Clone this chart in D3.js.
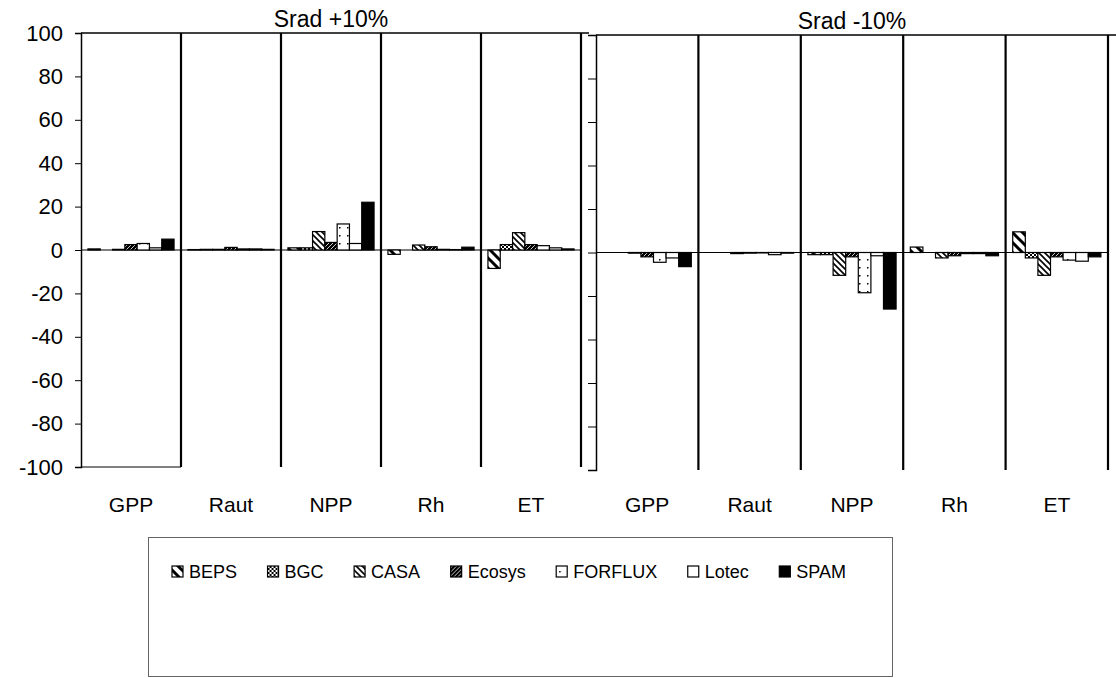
<!DOCTYPE html>
<html>
<head>
<meta charset="utf-8">
<script src="https://cdn.jsdelivr.net/npm/d3@7"></script>
<style>
  body { margin: 0; background: #fff; }
  svg { display: block; font-family: "Liberation Sans", Arial, sans-serif; }
</style>
</head>
<body>
<svg id="chart" width="1116" height="678"></svg>
<script>
var categories = ["GPP", "Raut", "NPP", "Rh", "ET"];
var models = ["BEPS", "BGC", "CASA", "Ecosys", "FORFLUX", "Lotec", "SPAM"];
var yTicks = [100, 80, 60, 40, 20, 0, -20, -40, -60, -80, -100];

// Srad +10% : values per category, in model order
var up_GPP  = [0.5, 0, 0.3, 2.5, 3, 1, 5];
var up_Raut = [0.2, 0.3, 0.3, 1.2, 0.5, 0.5, 0.3];
var up_NPP  = [1, 1, 8.5, 3.5, 12, 3, 22];
var up_Rh   = [-2, 0, 2.3, 1.5, 0.3, 0.2, 1.3];
var up_ET   = [-8.5, 2.5, 8, 2.5, 2, 1, 0.5];

// Srad -10%
var dn_GPP  = [0, 0, -0.3, -2, -4.5, -2.5, -6.5];
var dn_Raut = [0, 0, -0.5, -0.3, -0.2, -1, -0.3];
var dn_NPP  = [-1, -1, -10.5, -2, -18.5, -1.5, -26];
var dn_Rh   = [2.5, 0, -2.5, -1.5, -0.5, -0.5, -1.5];
var dn_ET   = [9.5, -2.5, -10.5, -2, -3.5, -4, -2];

var upValues = [up_GPP, up_Raut, up_NPP, up_Rh, up_ET];
var dnValues = [dn_GPP, dn_Raut, dn_NPP, dn_Rh, dn_ET];

var svg = d3.select("#chart");
var defs = svg.append("defs");

// fill patterns, roughly like the scanned Excel hatches
function pat(id, w, h) {
    var p = defs.append("pattern").attr("id", id)
        .attr("patternUnits", "userSpaceOnUse")
        .attr("width", w).attr("height", h);
    return p;
}
var p1 = pat("pBEPS", 10, 10);
p1.append("rect").attr("width", 10).attr("height", 10).attr("fill", "#fff");
p1.append("path").attr("d", "M-2,-2L12,12M-2,8L2,12M8,-2L12,2").attr("stroke", "#000").attr("stroke-width", 3);

var p2 = pat("pBGC", 4, 4);
p2.append("rect").attr("width", 4).attr("height", 4).attr("fill", "#fff");
p2.append("rect").attr("width", 2).attr("height", 2).attr("fill", "#000");
p2.append("rect").attr("x", 2).attr("y", 2).attr("width", 2).attr("height", 2).attr("fill", "#000");

var p3 = pat("pCASA", 6, 6);
p3.append("rect").attr("width", 6).attr("height", 6).attr("fill", "#fff");
p3.append("path").attr("d", "M-1,-1L7,7M-1,5L1,7M5,-1L7,1").attr("stroke", "#000").attr("stroke-width", 1.6);

var p4 = pat("pEcosys", 4, 4);
p4.append("rect").attr("width", 4).attr("height", 4).attr("fill", "#000");
p4.append("path").attr("d", "M0,4L4,0").attr("stroke", "#fff").attr("stroke-width", 0.8);

var p5 = pat("pFORFLUX", 8, 8);
p5.append("rect").attr("width", 8).attr("height", 8).attr("fill", "#fff");
p5.append("rect").attr("x", 3).attr("y", 3).attr("width", 1.5).attr("height", 1.5).attr("fill", "#000");

var fills = ["url(#pBEPS)", "url(#pBGC)", "url(#pCASA)", "url(#pEcosys)", "url(#pFORFLUX)", "#fff", "#000"];
var color = d3.scaleOrdinal().domain(models).range(fills);

function panel(x0, x1, top, bottom, values, title, showLabels) {
    var x = d3.scaleBand().domain(categories).range([x0, x1]);
    var xi = d3.scaleBand().domain(models).range([0, x.bandwidth()]).paddingOuter(0.565);
    var y = d3.scaleLinear().domain([-100, 100]).range([bottom, top]);
    var g = svg.append("g");

    // top border
    g.append("line").attr("x1", x0).attr("x2", x1 + 8).attr("y1", top).attr("y2", top)
        .attr("stroke", "#000").attr("stroke-width", 1.5);

    // y axis
    var ax = g.append("g").attr("transform", "translate(" + x0 + ",0)")
        .call(d3.axisLeft(y).tickValues(yTicks).tickSize(showLabels ? 6 : 8)
            .tickFormat(showLabels ? function(d) { return String(d); } : ""));
    ax.select(".domain").attr("stroke", "#000").attr("stroke-width", 1.5);
    ax.selectAll(".tick line").attr("stroke", "#000");
    ax.selectAll(".tick text").attr("font-size", 22).attr("fill", "#000").attr("x", -18)
        .style("font-family", "Liberation Sans, Arial, sans-serif");

    // zero line
    g.append("line").attr("x1", x0).attr("x2", x1).attr("y1", y(0)).attr("y2", y(0))
        .attr("stroke", "#000").attr("stroke-width", 1);

    // bars
    categories.forEach(function(c, ci) {
        g.append("g").selectAll("rect")
            .data(values[ci])
            .enter().append("rect")
            .attr("x", function(d, i) { return x(c) + xi(models[i]); })
            .attr("width", xi.bandwidth())
            .attr("y", function(d) { return y(Math.max(0, d)); })
            .attr("height", function(d) { return Math.abs(y(d) - y(0)); })
            .attr("fill", function(d, i) { return color(models[i]); })
            .attr("stroke", "#000").attr("stroke-width", 1.2);
    });

    // category dividers
    g.selectAll(".div").data(categories).enter().append("line")
        .attr("x1", function(d) { return x(d) + x.bandwidth(); })
        .attr("x2", function(d) { return x(d) + x.bandwidth(); })
        .attr("y1", top).attr("y2", bottom)
        .attr("stroke", "#000").attr("stroke-width", 2.2);

    // category labels
    g.selectAll(".cat").data(categories).enter().append("text")
        .attr("x", function(d) { return x(d) + x.bandwidth() / 2; })
        .attr("y", 512).attr("text-anchor", "middle")
        .attr("font-size", 21).text(function(d) { return d; });

    g.append("text").attr("x", (x0 + x1) / 2).attr("y", top - 6)
        .attr("text-anchor", "middle").attr("font-size", 23).text(title);
    return y;
}

var yL = panel(81, 581, 33, 467, upValues, "Srad +10%", true);
svg.append("line").attr("x1", 81).attr("x2", 181).attr("y1", yL(-100)).attr("y2", yL(-100))
    .attr("stroke", "#000").attr("stroke-width", 1);
panel(596, 1108, 35, 470, dnValues, "Srad -10%", false);

// legend
svg.append("rect").attr("x", 148.5).attr("y", 537.5).attr("width", 744).attr("height", 139)
    .attr("fill", "none").attr("stroke", "#666").attr("stroke-width", 1);

var lg = svg.append("g");
var items = lg.selectAll("g").data(models).enter().append("g");
items.append("rect").attr("y", 566).attr("width", 11).attr("height", 11)
    .attr("fill", function(d) { return color(d); })
    .attr("stroke", "#000").attr("stroke-width", 1.2);
items.append("text").attr("x", 17).attr("y", 578).attr("font-size", 18)
    .text(function(d) { return d; });

var widths = [];
items.each(function() { widths.push(17 + d3.select(this).select("text").node().getComputedTextLength()); });
var lStart = 172, lEnd = 846;
var gap = (lEnd - lStart - d3.sum(widths)) / (models.length - 1);
var cx = lStart;
items.each(function(d, i) {
    d3.select(this).attr("transform", "translate(" + cx + ",0)");
    cx += widths[i] + gap;
});
</script>
</body>
</html>
